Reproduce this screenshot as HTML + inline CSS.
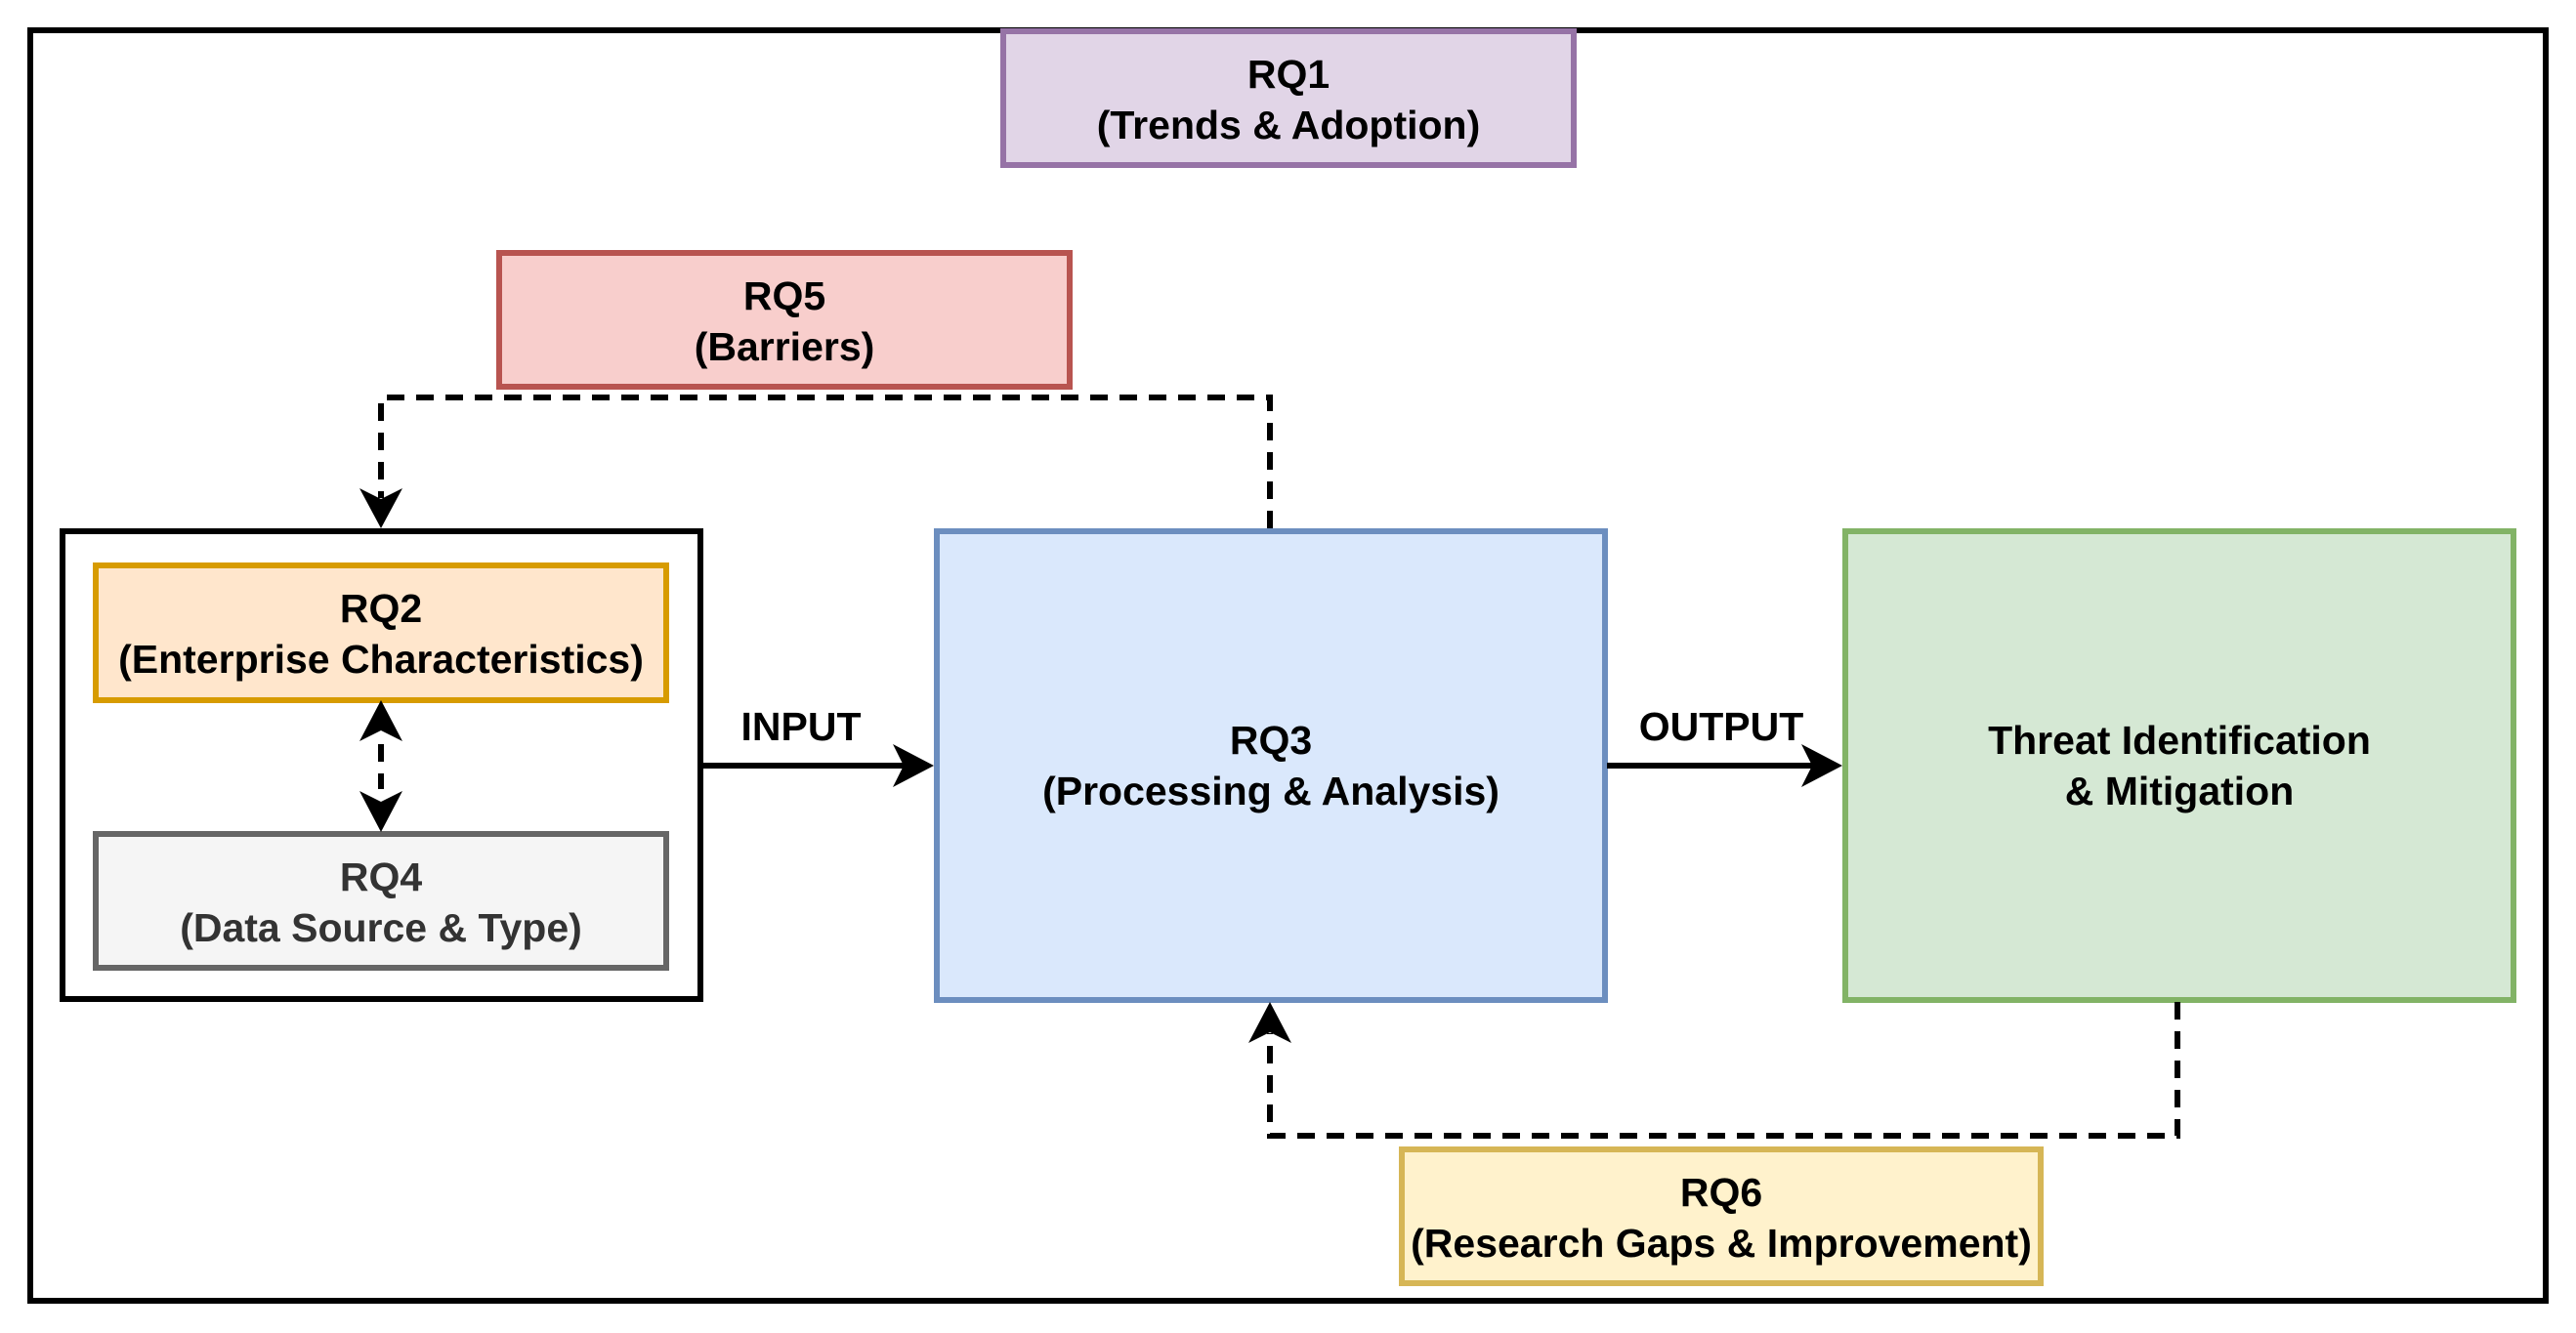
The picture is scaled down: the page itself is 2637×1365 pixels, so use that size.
<!DOCTYPE html>
<html><head><meta charset="utf-8"><style>
html,body{margin:0;padding:0;background:#fff}
svg{display:block}
text{font-family:"Liberation Sans",Arial,sans-serif;font-weight:bold;font-size:41px;text-anchor:middle}
</style></head><body>
<svg width="2637" height="1365" viewBox="0 0 2637 1365" xmlns="http://www.w3.org/2000/svg">
<rect x="0" y="0" width="2637" height="1365" fill="#fff"/>
<rect x="31" y="31" width="2575" height="1301" fill="none" stroke="#000" stroke-width="6"/>

<rect x="1027" y="32" width="584" height="137" fill="#e1d5e7" stroke="#9673a6" stroke-width="6"/>
<text x="1319" y="90">RQ1</text>
<text x="1319" y="142">(Trends &amp; Adoption)</text>

<rect x="511" y="259" width="584" height="137" fill="#f8cecc" stroke="#b85450" stroke-width="6"/>
<text x="803" y="317">RQ5</text>
<text x="803" y="369">(Barriers)</text>

<path d="M1300 541 V407 H390 V510" fill="none" stroke="#000" stroke-width="6" stroke-dasharray="18 12"/>
<path d="M390 541 L368 500 L390 511 L412 500 Z" fill="#000"/>

<rect x="64" y="544" width="653" height="479" fill="#fff" stroke="#000" stroke-width="6"/>

<rect x="98" y="579" width="584" height="138" fill="#ffe6cc" stroke="#d79b00" stroke-width="6"/>
<text x="390" y="637">RQ2</text>
<text x="390" y="689">(Enterprise Characteristics)</text>

<rect x="98" y="854" width="584" height="137" fill="#f5f5f5" stroke="#666666" stroke-width="6"/>
<text x="390" y="912" fill="#333">RQ4</text>
<text x="390" y="964" fill="#333">(Data Source &amp; Type)</text>

<path d="M390 762 V808" fill="none" stroke="#000" stroke-width="6" stroke-dasharray="18 12"/>
<path d="M390 717 L368 759 L390 748 L412 759 Z" fill="#000"/>
<path d="M390 852 L368 810 L390 821 L412 810 Z" fill="#000"/>

<rect x="959" y="544" width="684" height="480" fill="#dae8fc" stroke="#6c8ebf" stroke-width="6"/>
<text x="1301" y="772">RQ3</text>
<text x="1301" y="824">(Processing &amp; Analysis)</text>

<rect x="1889" y="544" width="684" height="480" fill="#d5e8d4" stroke="#82b366" stroke-width="6"/>
<text x="2231" y="772">Threat Identification</text>
<text x="2231" y="824">&amp; Mitigation</text>

<path d="M717 784 H925" stroke="#000" stroke-width="6"/>
<path d="M956 784 L914 762 L925 784 L914 806 Z" fill="#000"/>
<text x="820" y="758">INPUT</text>

<path d="M1645 784 H1855" stroke="#000" stroke-width="6"/>
<path d="M1886 784 L1844 762 L1855 784 L1844 806 Z" fill="#000"/>
<text x="1762" y="758">OUTPUT</text>

<path d="M2229 1026 V1163 H1300 V1058" fill="none" stroke="#000" stroke-width="6" stroke-dasharray="18 12"/>
<path d="M1300 1026 L1278 1068 L1300 1057 L1322 1068 Z" fill="#000"/>

<rect x="1435" y="1177" width="654" height="137" fill="#fff2cc" stroke="#d6b656" stroke-width="6"/>
<text x="1762" y="1235">RQ6</text>
<text x="1762" y="1287">(Research Gaps &amp; Improvement)</text>
</svg>
</body></html>
